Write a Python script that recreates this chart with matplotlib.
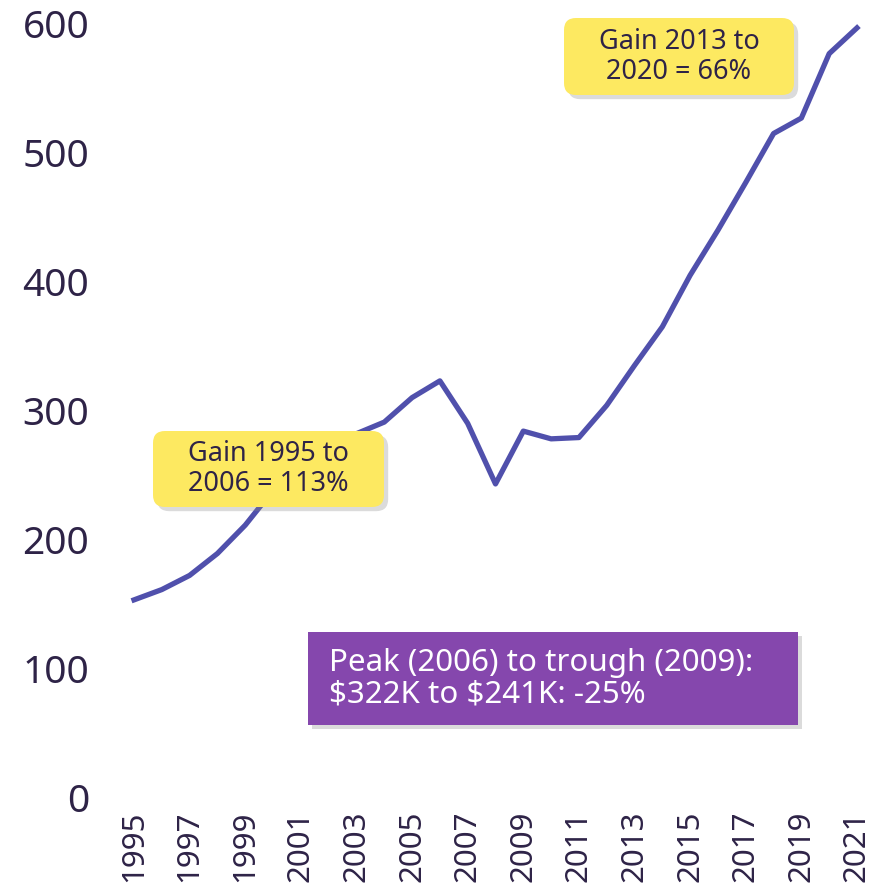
import matplotlib
matplotlib.use("Agg")
import matplotlib.pyplot as plt
from matplotlib.patches import FancyBboxPatch
from matplotlib.transforms import IdentityTransform
import matplotlib.patheffects as pe

plt.rcParams['font.family'] = ['Noto Sans', 'DejaVu Sans']

years = list(range(1995, 2022))
values = [153, 161, 172, 189, 211, 238, 258, 272, 282, 291, 310, 323, 290, 243,
          284, 278, 279, 304, 335, 365, 405, 440, 477, 515, 527, 577, 597]
tick_years = list(range(1995, 2022, 2))
y_ticks = [0, 100, 200, 300, 400, 500, 600]

note1 = "Gain 1995 to\n2006 = 113%"
note2 = "Gain 2013 to\n2020 = 66%"
note3 = "Peak (2006) to trough (2009):\n\\$322K to \\$241K: -25%"

W, H = 871, 896
fig = plt.figure(figsize=(W / 100, H / 100), dpi=100)

# axes placed in pixels: 1995 at x=134, 2021 at x=857, y 0 at 797, 600 at 24
ppy = (857 - 134) / 26
left_px, right_px = 110, 866
ax = fig.add_axes([left_px / W, (H - 797) / H, (right_px - left_px) / W, 773 / H])
ax.set_xlim(1995 - (134 - left_px) / ppy, 2021 + (right_px - 857) / ppy)
ax.set_ylim(0, 600)

ax.plot(years, values, color='#5050AC', lw=3.8, clip_on=False, zorder=2)

text_col = '#2E2347'
ax.set_yticks(y_ticks)
ax.set_yticklabels([str(v) for v in y_ticks], fontsize=28, color=text_col)
ax.set_xticks(tick_years)
ax.set_xticklabels([str(y) for y in tick_years], rotation=90, fontsize=22.5,
                   color=text_col, va='top')
ax.tick_params(axis='y', length=0, pad=15)
ax.tick_params(axis='x', length=0, pad=10)
for s in ax.spines.values():
    s.set_visible(False)


def px_box(x0, y0, x1, y1, color, rounded):
    style = "round,pad=0,rounding_size=12" if rounded else "square,pad=0"
    p = FancyBboxPatch((x0, H - y1), x1 - x0, y1 - y0, boxstyle=style,
                       transform=IdentityTransform(), facecolor=color,
                       edgecolor='none', zorder=5)
    p.set_path_effects([pe.SimplePatchShadow(offset=(3, -3), shadow_rgbFace='#888888',
                                             alpha=0.3), pe.Normal()])
    fig.add_artist(p)


px_box(153, 431, 384, 507, '#FDE961', True)
fig.text(268.5 / W, 1 - 469 / H, note1, ha='center', va='center', fontsize=19.5,
         color=text_col, linespacing=1.1, zorder=6)

px_box(564, 18, 794, 95, '#FDE961', True)
fig.text(679 / W, 1 - 57 / H, note2, ha='center', va='center', fontsize=19.5,
         color=text_col, linespacing=1.1, zorder=6)

px_box(308, 632, 798, 725, '#8547AD', False)
fig.text(329 / W, 1 - 679 / H, note3, ha='left', va='center', fontsize=22.5,
         color='white', linespacing=1.05, zorder=6)

fig.savefig('out.png', dpi=100)
